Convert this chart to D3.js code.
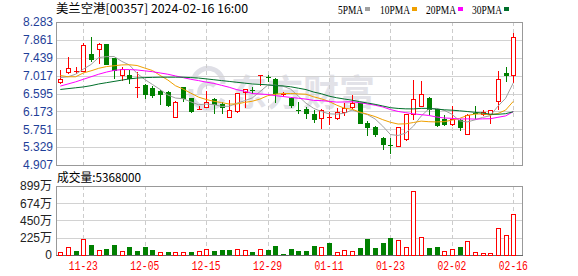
<!DOCTYPE html>
<html>
<head>
<meta charset="utf-8">
<script src="https://cdn.jsdelivr.net/npm/d3@7"></script>
<style>
html, body { margin: 0; padding: 0; background: #fff; }
svg { display: block; }
text { font-family: "Liberation Sans", "Noto Sans CJK SC", sans-serif; }
</style>
</head>
<body>
<div id="container"></div>
<script>
"use strict";

// trading days shown (MM-DD)
const dates = ["11-20","11-21","11-22","11-23","11-24","11-27","11-28","11-29","11-30","12-01",
    "12-04","12-05","12-06","12-07","12-08","12-11","12-12","12-13","12-14","12-15",
    "12-18","12-19","12-20","12-21","12-22","12-27","12-28","12-29","01-02","01-03",
    "01-04","01-05","01-08","01-09","01-10","01-11","01-12","01-15","01-16","01-17",
    "01-18","01-19","01-22","01-23","01-24","01-25","01-26","01-29","01-30","01-31",
    "02-01","02-02","02-05","02-06","02-07","02-08","02-09","02-14","02-15","02-16"];

const opens = [6.87,7.10,7.13,7.13,7.53,7.64,7.76,7.43,7.02,7.03,
    6.75,6.80,6.72,6.65,6.64,6.05,6.74,6.48,6.23,6.28,
    6.47,6.34,6.05,6.19,6.64,6.68,7.01,6.99,6.94,6.57,
    6.50,6.21,6.23,6.11,6.01,6.04,6.01,6.15,6.27,6.36,
    5.89,5.80,5.55,5.38,5.36,5.51,6.10,6.30,6.49,6.22,
    6.00,5.87,5.98,5.65,6.14,6.10,6.10,6.41,7.08,7.03];
const highs = [7.15,7.45,7.21,7.78,7.92,7.78,7.77,7.44,7.23,7.15,
    7.11,6.81,6.77,6.68,6.66,6.41,6.76,6.49,6.31,6.65,
    6.50,6.40,6.44,6.61,6.70,6.76,7.03,7.03,6.95,6.62,
    6.51,6.39,6.27,6.21,6.22,6.17,6.25,6.37,6.56,6.37,
    5.95,5.83,5.56,5.54,5.81,6.11,6.91,6.88,6.51,6.23,
    6.08,6.29,5.99,6.10,6.29,6.20,6.21,7.13,7.22,8.02];
const lows = [6.84,7.09,7.07,7.12,7.37,7.32,7.28,6.95,6.91,6.84,
    6.52,6.48,6.52,6.35,6.30,6.04,6.42,6.15,6.22,6.28,
    6.13,6.13,6.04,6.15,6.28,6.60,6.80,6.90,6.40,6.53,
    6.28,6.13,6.02,5.93,5.77,5.87,6.00,6.09,6.26,5.89,
    5.61,5.58,5.285,5.20,5.35,5.50,5.99,6.29,6.10,5.82,
    5.84,5.86,5.73,5.64,6.02,6.09,5.91,6.22,6.89,6.87];
const closes = [6.94,7.19,7.13,7.74,7.40,7.76,7.29,7.15,7.17,6.97,
    6.76,6.58,6.56,6.58,6.32,6.40,6.50,6.19,6.24,6.40,
    6.34,6.28,6.21,6.60,6.69,6.67,7.02,6.97,6.60,6.58,
    6.32,6.20,6.13,5.99,6.21,6.05,6.15,6.25,6.36,5.91,
    5.81,5.64,5.40,5.37,5.80,6.10,6.46,6.58,6.22,5.86,
    5.87,6.00,5.80,6.09,6.10,6.16,6.20,6.93,7.02,7.93];
// volume in 万 shares
const volumes = [35,100,52,204,130,61,78,130,52,104,
    52,104,65,35,39,35,35,39,52,74,
    56,65,65,74,65,39,82,65,117,13,
    74,52,52,117,100,156,35,61,48,91,
    208,91,156,221,191,100,830,230,91,104,
    48,74,104,178,35,22,22,348,256,536.8];

const ma5Head = [6.97,6.99,7.05,7.17];
const ma10Head = [7.02,6.99,6.99,7.08,7.13,7.19,7.23,7.25,7.27];
const ma20Head = [6.77,6.82,6.87,6.93,6.99,7.05,7.10,7.14,7.16,7.16,
    7.15,7.13,7.11,7.08,7.05,7.01,6.97,6.93,6.90];
const ma30Head = [6.69,6.71,6.73,6.75,6.78,6.82,6.85,6.88,6.91,6.94,
    6.96,6.97,6.975,6.98,6.98,6.98,6.98,6.97,6.96,6.94,
    6.92,6.90,6.88,6.86,6.84,6.82,6.81,6.80,6.78];

const maNames = ["5PMA","10PMA","20PMA","30PMA"];
const maPeriods = [5,10,20,30];
const maColors = ["#a0a0a0","#f0a000","#ff00ff","#006f2a"];

const priceTicks = [8.283,7.861,7.439,7.017,6.595,6.173,5.751,5.329,4.907];
const volTicks = [899,674,450,225,0];
const dateTicks = ["11-23","12-05","12-15","12-29","01-11","01-23","02-02","02-16"];

const titleText = "美兰空港[00357] 2024-02-16 16:00";
const volText = "成交量:5368000";

const RED = "#ff0000", GREEN = "#008000";

// layout
const width = 578, height = 276;
const left = 56, right = 522;
const pTop = 22, pBot = 165, vTop = 186, vBot = 255;

const svg = d3.select("#container").append("svg")
    .attr("width", width)
    .attr("height", height);

const x = d3.scaleLinear().domain([0, dates.length - 1]).range([60.3, 513.3]);
const y = d3.scaleLinear().domain([4.907, 8.283]).range([pBot, pTop]);
const yv = d3.scaleLinear().domain([0, 899]).range([vBot, vTop]);

const px = v => Math.round(v) + 0.5;   // crisp 1px lines
const idx = d3.range(dates.length);

// watermark
const wm = svg.append("g").attr("fill", "none").attr("stroke", "#dfdfe6").attr("stroke-width", 5);
wm.append("path").attr("d", "M194,78 A15,15 0 0 1 223,84");
wm.append("path").attr("d", "M191,89 A17,17 0 0 0 223,99");
wm.append("path").attr("d", "M200,95 A9,9 0 0 1 215,86");
svg.append("text")
    .attr("x", 231).attr("y", 106)
    .attr("font-size", 36)
    .attr("font-weight", "bold")
    .attr("fill", "#e2e2e8")
    .style("font-family", "'Noto Sans CJK SC'")
    .text("东方财富");

// horizontal grid
const grid = svg.append("g").attr("stroke", "#d2d2d2").attr("stroke-width", 1);
grid.selectAll(".hp")
    .data(priceTicks.slice(1, -1))
    .enter().append("line")
        .attr("x1", left).attr("x2", right)
        .attr("y1", d => px(y(d))).attr("y2", d => px(y(d)));
grid.selectAll(".hv")
    .data(volTicks.slice(1, -1))
    .enter().append("line")
        .attr("x1", left).attr("x2", right)
        .attr("y1", d => px(yv(d))).attr("y2", d => px(yv(d)));

// vertical dashed grid at labelled dates
const vgrid = svg.append("g")
    .attr("stroke", "#cccccc")
    .attr("stroke-dasharray", "4,3");
dateTicks.forEach(function(d) {
    const xx = px(x(dates.indexOf(d)));
    vgrid.append("line").attr("x1", xx).attr("x2", xx).attr("y1", pTop).attr("y2", pBot);
    vgrid.append("line").attr("x1", xx).attr("x2", xx).attr("y1", vTop).attr("y2", vBot);
});

// plot frames
svg.append("rect")
    .attr("x", left + 0.5).attr("y", pTop + 0.5)
    .attr("width", right - left).attr("height", pBot - pTop)
    .attr("fill", "none").attr("stroke", "#999");
svg.append("rect")
    .attr("x", left + 0.5).attr("y", vTop + 0.5)
    .attr("width", right - left).attr("height", vBot - vTop)
    .attr("fill", "none").attr("stroke", "#999");
svg.append("line")
    .attr("x1", left).attr("x2", right + 1)
    .attr("y1", vBot + 0.5).attr("y2", vBot + 0.5)
    .attr("stroke", "#666");

// candles
const candles = svg.append("g").selectAll("g")
    .data(idx)
    .enter().append("g");

candles.append("line")
    .attr("x1", i => px(x(i))).attr("x2", i => px(x(i)))
    .attr("y1", i => Math.round(y(highs[i]))).attr("y2", i => Math.round(y(lows[i])) + 1)
    .attr("stroke", i => closes[i] >= opens[i] ? RED : GREEN);

candles.each(function(i) {
    const g = d3.select(this);
    const up = closes[i] >= opens[i];
    const cx = Math.round(x(i));
    const top = Math.round(y(Math.max(opens[i], closes[i])));
    const bot = Math.round(y(Math.min(opens[i], closes[i])));
    if (bot - top < 2) {
        g.append("line")
            .attr("x1", cx - 2).attr("x2", cx + 3)
            .attr("y1", top + 0.5).attr("y2", top + 0.5)
            .attr("stroke", up ? RED : GREEN);
    } else if (up) {
        g.append("rect")
            .attr("x", cx - 1.5).attr("y", top + 0.5)
            .attr("width", 4).attr("height", bot - top)
            .attr("fill", "#fff").attr("stroke", RED);
    } else {
        g.append("rect")
            .attr("x", cx - 2).attr("y", top)
            .attr("width", 5).attr("height", bot - top + 1)
            .attr("fill", GREEN);
    }
});

// moving averages
const maSeries = maPeriods.map(function(p, k) {
    const head = [ma5Head, ma10Head, ma20Head, ma30Head][k];
    return idx.map(i => i < p - 1 ? head[i] : d3.mean(closes.slice(i - p + 1, i + 1)));
});
const line = d3.line().x((d, i) => x(i)).y(d => y(d));
svg.append("g").selectAll("path")
    .data(maSeries)
    .enter().append("path")
        .attr("d", line)
        .attr("fill", "none")
        .attr("stroke", (d, k) => maColors[k])
        .attr("stroke-width", 1);

// volume bars, coloured by change from the previous close
const volUp = i => i === 0 ? closes[i] >= opens[i] : closes[i] >= closes[i - 1];
svg.append("g").selectAll("rect")
    .data(idx)
    .enter().append("rect")
        .attr("x", i => volUp(i) ? Math.round(x(i)) - 1.5 : Math.round(x(i)) - 2)
        .attr("y", i => volUp(i) ? Math.round(yv(volumes[i])) + 0.5 : Math.round(yv(volumes[i])))
        .attr("width", i => volUp(i) ? 4 : 5)
        .attr("height", i => vBot - Math.round(yv(volumes[i])))
        .attr("fill", i => volUp(i) ? "#fff" : GREEN)
        .attr("stroke", i => volUp(i) ? RED : "none");

// title and legend
svg.append("text")
    .attr("x", 56).attr("y", 13)
    .attr("font-size", 12)
    .attr("fill", "#000")
    .attr("textLength", 192)
    .attr("lengthAdjust", "spacingAndGlyphs")
    .style("font-family", "'Noto Sans CJK SC'")
    .text(titleText);

const legendX = [338, 380, 426, 472];
const legendW = [25, 30, 30, 30];
const legend = svg.append("g").selectAll("g")
    .data(maNames)
    .enter().append("g");
legend.append("text")
    .attr("x", (d, k) => legendX[k])
    .attr("y", 13.5)
    .attr("font-size", 12.5)
    .attr("textLength", (d, k) => legendW[k])
    .attr("lengthAdjust", "spacingAndGlyphs")
    .style("font-family", "'Liberation Serif'")
    .text(d => d);
legend.append("rect")
    .attr("x", (d, k) => legendX[k] + legendW[k] + 2)
    .attr("y", 7)
    .attr("width", 5).attr("height", 4)
    .attr("fill", (d, k) => maColors[k]);

// price axis labels
svg.append("g").selectAll("text")
    .data(priceTicks)
    .enter().append("text")
        .attr("x", 53)
        .attr("y", d => y(d))
        .attr("dy", "0.36em")
        .attr("text-anchor", "end")
        .attr("font-size", 12)
        .attr("fill", "#1f3f99")
        .text(d => d.toFixed(3));

// volume label and axis
svg.append("text")
    .attr("x", 57).attr("y", 182)
    .attr("font-size", 12)
    .attr("textLength", 84)
    .attr("lengthAdjust", "spacingAndGlyphs")
    .style("font-family", "'Noto Sans CJK SC'")
    .text(volText);

svg.append("g").selectAll("text")
    .data(volTicks)
    .enter().append("text")
        .attr("x", 52)
        .attr("y", d => yv(d))
        .attr("dy", "0.36em")
        .attr("text-anchor", "end")
        .attr("font-size", 12)
        .attr("fill", "#222")
        .text(d => d === 0 ? "0" : d + "万");

// date labels
svg.append("g").selectAll("text")
    .data(dateTicks)
    .enter().append("text")
        .attr("x", d => x(dates.indexOf(d)))
        .attr("y", 270)
        .attr("text-anchor", "middle")
        .attr("font-size", 12)
        .attr("fill", RED)
        .attr("textLength", 29)
        .attr("lengthAdjust", "spacingAndGlyphs")
        .style("font-family", "'Liberation Mono'")
        .text(d => d);
</script>
</body>
</html>
